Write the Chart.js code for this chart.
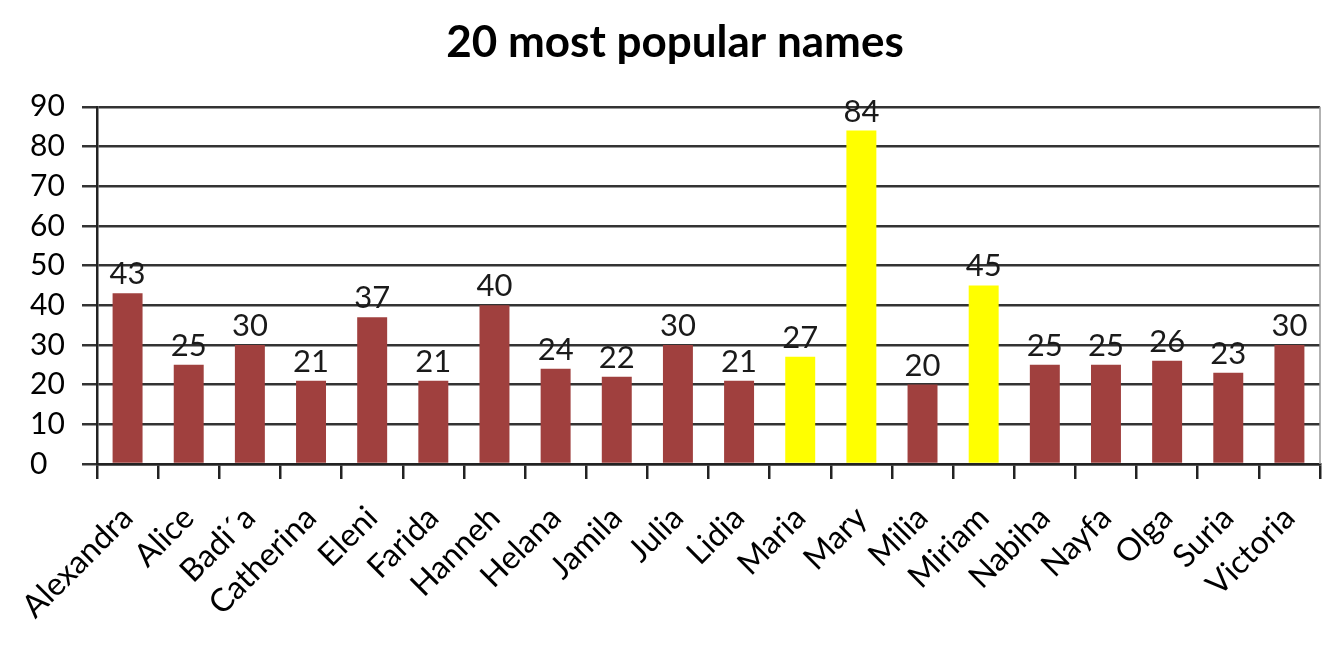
<!DOCTYPE html>
<html>
<head>
<meta charset="utf-8">
<script src="https://cdn.jsdelivr.net/npm/chart.js@4"></script>
<style>
  html, body { margin: 0; padding: 0; background: #fff; }
  #wrap { width: 1340px; height: 651px; position: relative; }
</style>
</head>
<body>
<div id="wrap"><canvas id="namesChart"></canvas></div>
<script>
// names on the x axis
const names = ["Alexandra", "Alice", "Badi\u00b4a", "Catherina", "Eleni", "Farida", "Hanneh", "Helana",
  "Jamila", "Julia", "Lidia", "Maria", "Mary", "Milia", "Miriam", "Nabiha", "Nayfa", "Olga", "Suria", "Victoria"];
// how many girls got each name
const counts = [43, 25, 30, 21, 37, 21, 40, 24, 22, 30, 21, 27, 84, 20, 45, 25, 25, 26, 23, 30];
// the names drawn in yellow
const highlighted = ["Maria", "Mary", "Miriam"];
const yTicks = [0, 10, 20, 30, 40, 50, 60, 70, 80, 90];

const FONT = "Lato, 'Liberation Sans', sans-serif";
const BROWN = "#A0403E";
const YELLOW = "#FFFF00";

// draws the value above each bar
const valueLabels = {
  id: "valueLabels",
  afterDatasetsDraw(chart) {
    const ctx = chart.ctx;
    const meta = chart.getDatasetMeta(0);
    ctx.save();
    ctx.font = "31px " + FONT;
    ctx.fillStyle = "#1a1a1a";
    ctx.textAlign = "center";
    ctx.textBaseline = "alphabetic";
    meta.data.forEach((bar, i) => {
      ctx.fillText(String(counts[i]), bar.x, bar.y - 9);
    });
    ctx.restore();
  }
};

// thin grey line closing the plot on the right
const rightBorder = {
  id: "rightBorder",
  beforeDatasetsDraw(chart) {
    const { ctx, chartArea } = chart;
    ctx.save();
    ctx.strokeStyle = "#999";
    ctx.lineWidth = 1.5;
    ctx.beginPath();
    ctx.moveTo(chartArea.right, chartArea.top);
    ctx.lineTo(chartArea.right, chartArea.bottom);
    ctx.stroke();
    ctx.restore();
  }
};

new Chart(document.getElementById("namesChart"), {
  type: "bar",
  data: {
    labels: names,
    datasets: [{
      data: counts,
      backgroundColor: names.map(n => highlighted.includes(n) ? YELLOW : BROWN),
      barPercentage: 0.49,
      categoryPercentage: 1.0
    }]
  },
  options: {
    responsive: true,
    maintainAspectRatio: false,
    devicePixelRatio: 1,
    animation: false,
    layout: { padding: { left: 30, right: 20, top: 0, bottom: 0 } },
    plugins: {
      legend: { display: false },
      tooltip: { enabled: false },
      title: {
        display: true,
        text: "20 most popular names",
        color: "#000",
        font: { family: FONT, size: 44, weight: "bold", lineHeight: 1.2 },
        padding: { top: 16, bottom: 38 }
      }
    },
    scales: {
      x: {
        offset: true,
        grid: {
          offset: true,
          drawOnChartArea: false,
          drawTicks: true,
          tickLength: 15,
          color: "#222",
          lineWidth: 2.5
        },
        border: { display: true, color: "#222", width: 2.5 },
        ticks: {
          color: "#000",
          font: { family: FONT, size: 32 },
          minRotation: 45,
          maxRotation: 45,
          padding: 20,
          autoSkip: false
        },
        afterFit(scale) {
          scale.height = 187;
          scale.paddingLeft = 0;
          scale.paddingRight = 0;
        }
      },
      y: {
        min: 0,
        max: 90,
        afterBuildTicks(scale) { scale.ticks = yTicks.map(v => ({ value: v })); },
        grid: {
          color: "#333",
          lineWidth: 2.5,
          tickLength: 15,
          drawTicks: true
        },
        border: { display: true, color: "#222", width: 2.5 },
        ticks: {
          color: "#000",
          font: { family: FONT, size: 30 },
          crossAlign: "far",
          padding: 6
        },
        afterFit(scale) {
          scale.width = 67;
          scale.paddingTop = 0;
          scale.paddingBottom = 0;
        }
      }
    }
  },
  plugins: [valueLabels, rightBorder]
});
</script>
</body>
</html>
